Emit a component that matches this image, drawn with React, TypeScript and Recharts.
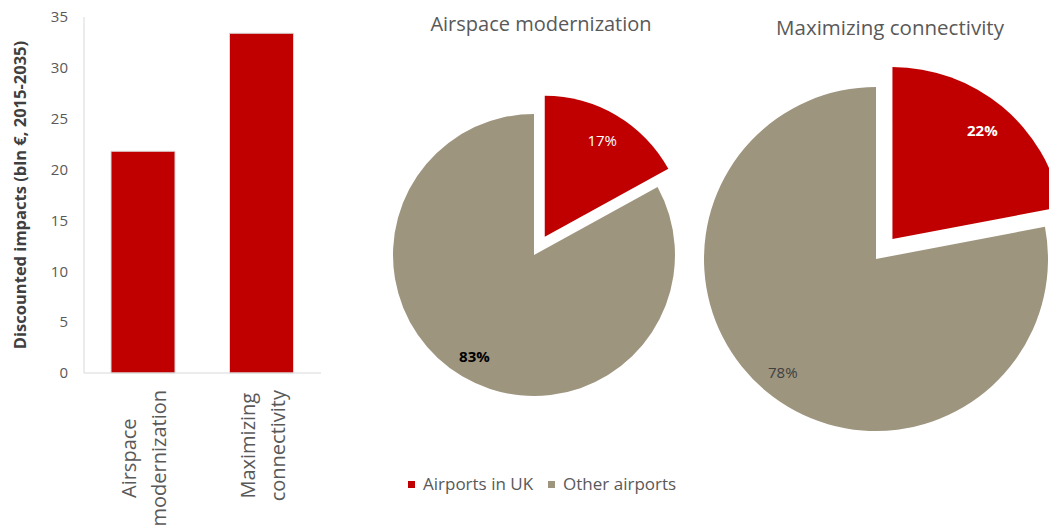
import { BarChart, Bar, XAxis, YAxis, Label, PieChart, Pie, Cell, Legend } from "recharts";

const FONT = "'Open Sans', 'Noto Sans', sans-serif";
const RED = "#c00000";
const TAUPE = "#9e957f";
const TEXT_GREY = "#595959";

// bar chart data
const CATEGORY_LINES = [
  ["Airspace", "modernization"],
  ["Maximizing", "connectivity"],
];
const DISCOUNTED_IMPACTS = [21.8, 33.4]; // bln €, 2015-2035
const Y_TICKS = [0, 5, 10, 15, 20, 25, 30, 35];

// pie data (share of impacts, %)
const SHARE_NAMES = ["Airports in UK", "Other airports"];
const SHARE_COLORS = [RED, TAUPE];
const AIRSPACE_SHARES = [17, 83];
const CONNECTIVITY_SHARES = [22, 78];

const barData = CATEGORY_LINES.map((lines, i) => ({
  name: lines.join(" "),
  lines,
  value: DISCOUNTED_IMPACTS[i],
}));

const toPieData = (shares: number[]) =>
  shares.map((v, i) => ({ name: SHARE_NAMES[i], value: v }));

let ctx: CanvasRenderingContext2D | null = null;
function textWidth(text: string, font: string) {
  if (!ctx) ctx = document.createElement("canvas").getContext("2d");
  if (!ctx) return text.length * 10;
  ctx.font = font;
  return ctx.measureText(text).width;
}

function CategoryTick(props: any) {
  const { x, y, payload } = props;
  const item = barData.find((d) => d.name === payload.value);
  const lines = item ? item.lines : [String(payload.value)];
  const longest = Math.max(...lines.map((l) => textWidth(l, `20px 'Open Sans'`)));
  return (
    <g transform={`translate(${x},${y + 17}) rotate(-90)`}>
      {lines.map((l, i) => (
        <text
          key={l}
          x={-longest / 2}
          y={-7 + i * 30}
          textAnchor="middle"
          fontSize={20}
          fontFamily={FONT}
          fill={TEXT_GREY}
        >
          {l}
        </text>
      ))}
    </g>
  );
}

function YTitle(props: any) {
  const vb = props.viewBox || { x: 0, y: 0, height: 0 };
  const cy = vb.y + vb.height / 2;
  const x = vb.x + 26;
  return (
    <text
      x={x}
      y={cy}
      transform={`rotate(-90, ${x}, ${cy})`}
      textAnchor="middle"
      fontSize={16.5}
      fontWeight="bold"
      fontFamily={FONT}
      fill="#404040"
    >
      Discounted impacts (bln €, 2015-2035)
    </text>
  );
}

type LabelStyle = { fill: string; fontWeight: string; radius: number };

const RAD = Math.PI / 180;

function pieLabel(showIndex: number, styles: LabelStyle[]) {
  return (p: any) => {
    if (p.index !== showIndex) return null;
    const s = styles[p.index];
    const r = p.outerRadius * s.radius;
    const lx = p.cx + r * Math.cos(-p.midAngle * RAD);
    const ly = p.cy + r * Math.sin(-p.midAngle * RAD);
    return (
      <text
        key={`lbl-${p.index}`}
        x={lx}
        y={ly}
        textAnchor="middle"
        dominantBaseline="central"
        fontSize={15}
        fontFamily={FONT}
        fontWeight={s.fontWeight}
        fill={s.fill}
      >
        {`${p.value}%`}
      </text>
    );
  };
}

// one pie with its first slice pulled out along its mid angle
function explodedPie(
  id: string,
  shares: number[],
  cx: number,
  cy: number,
  r: number,
  styles: LabelStyle[]
) {
  const data = toPieData(shares);
  const mid = (90 - (shares[0] / 100) * 180) * RAD;
  const d = r * 0.15;
  return [
    <Pie
      key={`${id}-rest`}
      data={data}
      dataKey="value"
      cx={cx}
      cy={cy}
      outerRadius={r}
      startAngle={90}
      endAngle={-270}
      stroke="none"
      labelLine={false}
      label={pieLabel(1, styles)}
      isAnimationActive={false}
    >
      {data.map((_, i) => (
        <Cell key={i} fill={i === 0 ? "none" : SHARE_COLORS[i]} />
      ))}
    </Pie>,
    <Pie
      key={`${id}-out`}
      data={data}
      dataKey="value"
      cx={cx + d * Math.cos(mid)}
      cy={cy - d * Math.sin(mid)}
      outerRadius={r}
      startAngle={90}
      endAngle={-270}
      stroke="none"
      labelLine={false}
      label={pieLabel(0, styles)}
      isAnimationActive={false}
    >
      {data.map((_, i) => (
        <Cell key={i} fill={i === 0 ? SHARE_COLORS[i] : "none"} />
      ))}
    </Pie>,
  ];
}

function ShareLegend() {
  return (
    <div style={{ display: "flex", alignItems: "center", fontFamily: FONT, fontSize: 17, lineHeight: "20px", color: TEXT_GREY }}>
      {SHARE_NAMES.map((name, i) => (
        <div key={name} style={{ display: "flex", alignItems: "center", marginRight: 15 }}>
          <span style={{ width: 7, height: 7, background: SHARE_COLORS[i], marginRight: 8, display: "inline-block" }} />
          <span>{name}</span>
        </div>
      ))}
    </div>
  );
}

export default function App() {
  return (
    <div style={{ position: "absolute", left: 0, top: 0, width: 1049, height: 531, background: "#fff", overflow: "hidden" }}>
      <div style={{ position: "absolute", left: 0, top: 0 }}>
        <BarChart width={340} height={531} data={barData} margin={{ top: 17, right: 19, bottom: 0, left: 0 }}>
          <XAxis
            dataKey="name"
            height={158}
            axisLine={{ stroke: "#d9d9d9" }}
            tickLine={false}
            tickSize={0}
            tickMargin={0}
            interval={0}
            tick={<CategoryTick />}
          />
          <YAxis
            width={84}
            domain={[0, 35]}
            ticks={Y_TICKS}
            axisLine={{ stroke: "#d9d9d9" }}
            tickLine={false}
            tickSize={0}
            tickMargin={16}
            tick={{ fontSize: 15, fill: TEXT_GREY, fontFamily: FONT }}
            label={<Label content={<YTitle />} />}
          />
          <Bar dataKey="value" fill={RED} stroke="#d9d9d9" strokeWidth={1} barSize={64} isAnimationActive={false} />
        </BarChart>
      </div>
      <div style={{ position: "absolute", left: 340, top: 0 }}>
        <PieChart width={709} height={531} margin={{ top: 0, right: 0, bottom: 0, left: 0 }}>
          {explodedPie("airspace", AIRSPACE_SHARES, 194, 255, 141, [
            { fill: "#ffffff", fontWeight: "normal", radius: 0.8 },
            { fill: "#000000", fontWeight: "bold", radius: 0.83 },
          ])}
          {explodedPie("connect", CONNECTIVITY_SHARES, 536, 259, 172, [
            { fill: "#ffffff", fontWeight: "bold", radius: 0.82 },
            { fill: "#404040", fontWeight: "normal", radius: 0.85 },
          ])}
          <text x={201} y={31} textAnchor="middle" fontSize={20} fontFamily={FONT} fill={TEXT_GREY}>
            Airspace modernization
          </text>
          <text x={550} y={35} textAnchor="middle" fontSize={20.5} fontFamily={FONT} fill={TEXT_GREY}>
            Maximizing connectivity
          </text>
          <Legend
            content={<ShareLegend />}
            wrapperStyle={{ left: 68, top: 474, bottom: "auto", width: "auto" }}
          />
        </PieChart>
      </div>
    </div>
  );
}
